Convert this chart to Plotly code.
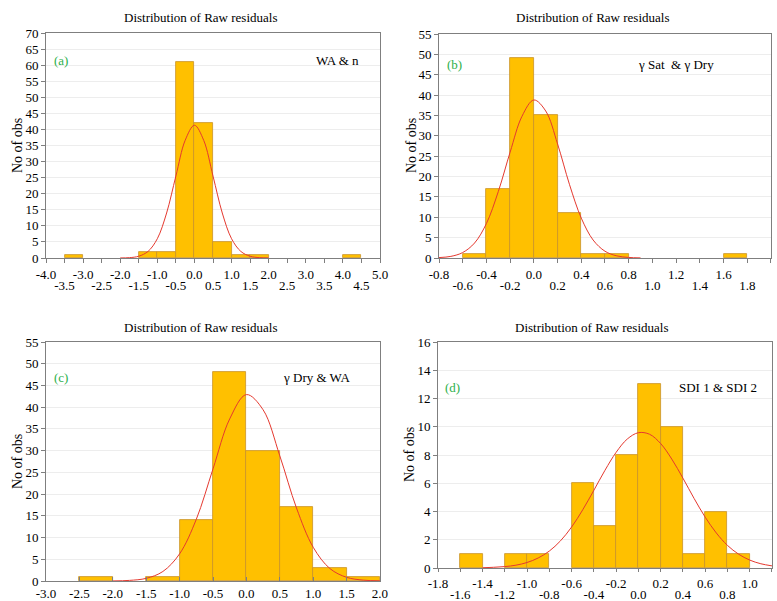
import plotly.graph_objects as go

W, H = 777, 601
FONT = "Liberation Serif, Times New Roman, serif"

# ---------------- data ----------------
# (a) WA & n
a_centers = [-3.25, -1.25, -0.75, -0.25, 0.25, 0.75, 1.25, 1.75, 4.25]
a_counts = [1, 2, 2, 61, 42, 5, 1, 1, 1]
a_width = 0.5
a_curve_x = [-2.0, -1.75, -1.5, -1.25, -1.0, -0.75, -0.5, -0.25, 0.0,
             0.25, 0.5, 0.75, 1.0, 1.25, 1.5, 1.75, 2.0]
a_curve_y = [0.02, 0.11, 0.55, 2.05, 6.0, 14.0, 25.5, 36.6, 41.3,
             36.6, 25.5, 14.0, 6.0, 2.05, 0.55, 0.11, 0.02]
a_ticks = [-4.0, -3.5, -3.0, -2.5, -2.0, -1.5, -1.0, -0.5, 0.0, 0.5, 1.0,
           1.5, 2.0, 2.5, 3.0, 3.5, 4.0, 4.5, 5.0]
a_labels = ["-4.0", "-3.5", "-3.0", "-2.5", "-2.0", "-1.5", "-1.0", "-0.5",
            "0.0", "0.5", "1.0", "1.5", "2.0", "2.5", "3.0", "3.5", "4.0",
            "4.5", "5.0"]

# (b) gamma Sat & gamma Dry
b_centers = [-0.5, -0.3, -0.1, 0.1, 0.3, 0.5, 0.7, 1.7]
b_counts = [1, 17, 49, 35, 11, 1, 1, 1]
b_width = 0.2
b_curve_x = [-0.8, -0.7, -0.6, -0.5, -0.4, -0.3, -0.2, -0.1, 0.0, 0.1,
             0.2, 0.3, 0.4, 0.5, 0.6, 0.7, 0.8, 0.9]
b_curve_y = [0.10, 0.40, 1.34, 3.68, 8.47, 16.3, 26.0, 34.8, 38.8, 36.1,
             28.0, 18.1, 9.8, 4.41, 1.66, 0.52, 0.14, 0.03]
b_ticks = [-0.8, -0.6, -0.4, -0.2, 0.0, 0.2, 0.4, 0.6, 0.8, 1.0, 1.2, 1.4,
           1.6, 1.8, 2.0]
b_labels = ["-0.8", "-0.6", "-0.4", "-0.2", "0.0", "0.2", "0.4", "0.6",
            "0.8", "1.0", "1.2", "1.4", "1.6", "1.8", "2.0"]

# (c) gamma Dry & WA
c_centers = [-2.25, -1.25, -0.75, -0.25, 0.25, 0.75, 1.25, 1.75]
c_counts = [1, 1, 14, 48, 30, 17, 3, 1]
c_width = 0.5
c_curve_x = [-2.0, -1.75, -1.5, -1.25, -1.0, -0.75, -0.5, -0.25, 0.0,
             0.25, 0.5, 0.75, 1.0, 1.25, 1.5, 1.75, 2.0]
c_curve_y = [0.02, 0.14, 0.61, 2.19, 6.25, 14.2, 25.8, 37.3, 42.9,
             39.4, 28.8, 16.8, 7.77, 2.87, 0.85, 0.20, 0.04]
c_ticks = [-3.0, -2.5, -2.0, -1.5, -1.0, -0.5, 0.0, 0.5, 1.0, 1.5, 2.0]
c_labels = ["-3.0", "-2.5", "-2.0", "-1.5", "-1.0", "-0.5", "0.0", "0.5",
            "1.0", "1.5", "2.0"]

# (d) SDI 1 & SDI 2
d_centers = [-1.5, -1.1, -0.9, -0.5, -0.3, -0.1, 0.1, 0.3, 0.5, 0.7, 0.9]
d_counts = [1, 1, 1, 6, 3, 8, 13, 10, 1, 4, 1]
d_width = 0.2
d_curve_x = [-1.4, -1.3, -1.2, -1.1, -1.0, -0.9, -0.8, -0.7, -0.6, -0.5,
             -0.4, -0.3, -0.2, -0.1, 0.0, 0.1, 0.2, 0.3, 0.4, 0.5, 0.6,
             0.7, 0.8, 0.9, 1.0, 1.1, 1.2]
d_curve_y = [0.02, 0.05, 0.10, 0.20, 0.39, 0.71, 1.20, 1.92, 2.90, 4.12,
             5.50, 6.92, 8.19, 9.13, 9.58, 9.47, 8.81, 7.71, 6.36, 4.93,
             3.60, 2.48, 1.60, 0.98, 0.56, 0.30, 0.15]
d_ticks = [-1.8, -1.6, -1.4, -1.2, -1.0, -0.8, -0.6, -0.4, -0.2, 0.0, 0.2,
           0.4, 0.6, 0.8, 1.0, 1.2]
d_labels = ["-1.8", "-1.6", "-1.4", "-1.2", "-1.0", "-0.8", "-0.6", "-0.4",
            "-0.2", "0.0", "0.2", "0.4", "0.6", "0.8", "1.0", "1.2"]

panel_tags = ["(a)", "(b)", "(c)", "(d)"]
panel_names = ["WA &amp; n", "γ Sat  &amp; γ Dry", "γ Dry &amp; WA", "SDI 1 &amp; SDI 2"]
title_text = "Distribution of Raw residuals"
ytitle_text = "No of obs"

# ---------------- layout geometry (pixels) ----------------
def px_x(p):
    return p / W

def px_y(p):
    return 1 - p / H

panels = [
    dict(x0=46, x1=380, y0=33, y1=258, centers=a_centers, counts=a_counts, w=a_width,
         cx=a_curve_x, cy=a_curve_y, ticks=a_ticks, labels=a_labels, two=True,
         xr=[-4.0, 5.0001], yr=[0, 70], dy=5, tl=4, td="outside"),
    dict(x0=439, x1=771, y0=34, y1=258, centers=b_centers, counts=b_counts, w=b_width,
         cx=b_curve_x, cy=b_curve_y, ticks=b_ticks, labels=b_labels, two=True,
         xr=[-0.8, 2.0001], yr=[0, 55], dy=5, tl=4, td="outside"),
    dict(x0=46, x1=380, y0=342, y1=581, centers=c_centers, counts=c_counts, w=c_width,
         cx=c_curve_x, cy=c_curve_y, ticks=c_ticks, labels=c_labels, two=False,
         xr=[-3.0, 2.0001], yr=[0, 55], dy=5, tl=4, td="inside"),
    dict(x0=438, x1=772, y0=342, y1=568, centers=d_centers, counts=d_counts, w=d_width,
         cx=d_curve_x, cy=d_curve_y, ticks=d_ticks, labels=d_labels, two=True,
         xr=[-1.8, 1.2001], yr=[0, 16], dy=2, tl=3, td="outside"),
]

fig = go.Figure()
layout = {}
annotations = []

title_pos = [(200, 18), (592, 18), (200, 327), (591, 327)]
ytitle_pos = [(17, 146), (411, 146), (17, 462), (409, 455)]
tag_pos = [(61, 60), (454, 64), (61, 377), (452, 387)]
name_pos = [(337, 60), (676, 64), (316, 377), (718, 387)]

AX = "#7f7f7f"
tickfont = dict(family=FONT, size=13, color="black")

for i, p in enumerate(panels):
    k = "" if i == 0 else str(i + 1)
    xa, ya = "x" + k, "y" + k
    fig.add_trace(go.Bar(
        x=p["centers"], y=p["counts"], width=p["w"], xaxis=xa, yaxis=ya,
        marker=dict(color="#FFC000", line=dict(color="#C8922A", width=0.8)),
        showlegend=False, hoverinfo="skip"))
    fig.add_trace(go.Scatter(
        x=p["cx"], y=p["cy"], xaxis=xa, yaxis=ya, mode="lines",
        line=dict(color="#E5392F", width=1, shape="spline"),
        showlegend=False, hoverinfo="skip"))
    if p["two"]:
        row1 = [lab if j % 2 == 0 else "" for j, lab in enumerate(p["labels"])]
    else:
        row1 = p["labels"]
    layout["xaxis" + k] = dict(
        domain=[px_x(p["x0"]), px_x(p["x1"])], anchor=ya, range=p["xr"],
        tickmode="array", tickvals=p["ticks"], ticktext=row1, tickangle=0,
        automargin=False,
        ticks=p["td"], ticklen=p["tl"], tickcolor=AX,
        showline=True, mirror=True, linecolor=AX, linewidth=1,
        showgrid=False, zeroline=False, tickfont=tickfont)
    layout["yaxis" + k] = dict(
        domain=[px_y(p["y1"]), px_y(p["y0"])], anchor=xa, range=p["yr"],
        automargin=False,
        dtick=p["dy"], tick0=0, ticks="outside", ticklen=4, tickcolor=AX,
        showline=True, mirror=True, linecolor=AX, linewidth=1,
        showgrid=True, gridcolor="#ededed", gridwidth=1, zeroline=False,
        tickfont=tickfont)
    if p["two"]:
        k2 = str(i + 5)
        odd_vals = [v for j, v in enumerate(p["ticks"]) if j % 2 == 1]
        odd_labs = [lab for j, lab in enumerate(p["labels"]) if j % 2 == 1]
        fig.add_trace(go.Scatter(x=[], y=[], xaxis="x" + k2, yaxis=ya,
                                 showlegend=False, hoverinfo="skip"))
        layout["xaxis" + k2] = dict(
            overlaying=xa, anchor=ya, side="bottom", range=p["xr"],
            tickmode="array", tickvals=odd_vals, ticktext=odd_labs, tickangle=0,
            automargin=False,
            ticks="outside", ticklen=p["tl"] + 11, tickcolor="rgba(0,0,0,0)",
            showline=False, showgrid=False, zeroline=False,
            tickfont=tickfont)
    tx, ty = title_pos[i]
    annotations.append(dict(text=title_text, x=px_x(tx), y=px_y(ty), xref="paper", yref="paper",
                            showarrow=False, xanchor="center", yanchor="middle",
                            font=dict(family=FONT, size=13, color="black")))
    yx, yy = ytitle_pos[i]
    annotations.append(dict(text=ytitle_text, x=px_x(yx), y=px_y(yy), xref="paper", yref="paper",
                            showarrow=False, xanchor="center", yanchor="middle", textangle=-90,
                            font=dict(family=FONT, size=14, color="black")))
    gx, gy = tag_pos[i]
    annotations.append(dict(text=panel_tags[i], x=px_x(gx), y=px_y(gy), xref="paper", yref="paper",
                            showarrow=False, xanchor="center", yanchor="middle",
                            font=dict(family=FONT, size=13, color="#2DB04B")))
    nx, ny = name_pos[i]
    annotations.append(dict(text=panel_names[i], x=px_x(nx), y=px_y(ny), xref="paper", yref="paper",
                            showarrow=False, xanchor="center", yanchor="middle",
                            font=dict(family=FONT, size=13, color="black")))

fig.update_layout(
    width=W, height=H, margin=dict(l=0, r=0, t=0, b=0, autoexpand=False),
    paper_bgcolor="white", plot_bgcolor="white",
    bargap=0, annotations=annotations, **layout)

fig.write_html("out.html", config={"displayModeBar": False},
               post_script="document.body.style.margin='0';document.body.style.padding='0';"
                           "document.body.style.overflow='hidden';")
